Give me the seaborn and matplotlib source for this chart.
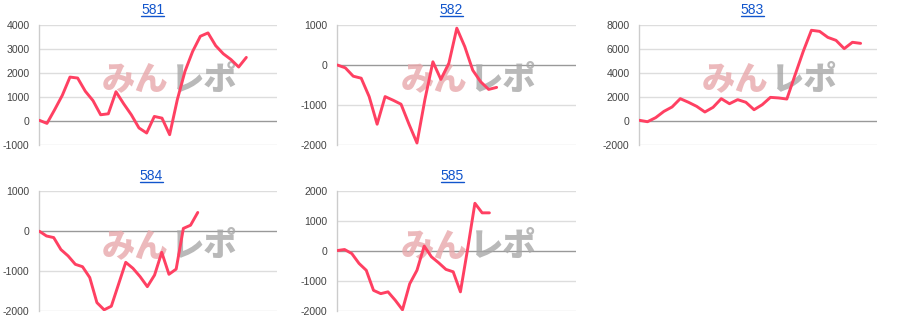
import numpy as np
import pandas as pd
import matplotlib
matplotlib.use("Agg")
import matplotlib.pyplot as plt
import seaborn as sns
from matplotlib.lines import Line2D

sns.set_theme(style="white")
plt.rcParams['font.family'] = ['Arial', 'Liberation Sans', 'DejaVu Sans']
plt.rcParams['axes.unicode_minus'] = False

titles = ["581", "582", "583", "584", "585"]

s581 = [30, -100, 470, 1070, 1830, 1790, 1240, 850, 260, 300, 1220, 720, 260, -290,
        -500, 190, 120, -570, 890, 2070, 2900, 3530, 3670, 3140, 2800, 2560, 2250, 2650]
s582 = [0, -70, -280, -330, -790, -1480, -790, -880, -980, -1480, -1950, -860, 80,
        -360, 40, 920, 460, -130, -420, -610, -560]
s583 = [60, -60, 280, 800, 1170, 1860, 1560, 1220, 750, 1140, 1860, 1440, 1780, 1560,
        940, 1360, 1970, 1920, 1830, 3830, 5800, 7560, 7470, 6970, 6720, 6030, 6560, 6470]
s584 = [0, -120, -160, -460, -620, -830, -890, -1160, -1790, -1970, -1880, -1330, -780,
        -930, -1140, -1390, -1100, -530, -1080, -950, 70, 150, 470]
s585 = [20, 55, -80, -410, -640, -1310, -1420, -1360, -1640, -1960, -1090, -640, 170,
        -190, -390, -610, -690, -1360, 80, 1600, 1280, 1280]

series = [s581, s582, s583, s584, s585]
ylims = [(-1000, 4000), (-2000, 1000), (-2000, 8000), (-2000, 1000), (-2000, 2000)]
ysteps = [1000, 1000, 2000, 1000, 1000]
xmax = [31, 30, 29, 33, 33]

W, H = 900, 332
fig = plt.figure(figsize=(W / 100, H / 100), dpi=100)

col_x = [(39.3, 277), (337.3, 576.3), (639.3, 877)]
row_y = [(25, 145), (191.3, 311)]
title_pos = [(152.5, 9.5), (451.5, 9.5), (752.5, 9.5), (151.5, 175.5), (452.5, 175.5)]

line_color = "#ff4062"
axes = []
for i, (t, s) in enumerate(zip(titles, series)):
    r, c = divmod(i, 3)
    x0, x1 = col_x[c]
    y0, y1 = row_y[r]
    ax = fig.add_axes([x0 / W, 1 - y1 / H, (x1 - x0) / W, (y1 - y0) / H])
    axes.append(ax)
    lo, hi = ylims[i]
    ticks = np.arange(lo, hi + 1, ysteps[i])
    for tv in ticks:
        ax.axhline(tv, color="#999999" if tv == 0 else "#dddddd",
                   lw=1.0, zorder=1)
    # watermark
    ax.text(0.545, 0.55, "みん", transform=ax.transAxes, fontsize=24,
            family=['Noto Sans CJK JP'], fontweight='heavy', color="#e8a8ab",
            alpha=0.8, ha='right', va='center', zorder=2)
    ax.text(0.555, 0.55, "レポ", transform=ax.transAxes, fontsize=24,
            family=['Noto Sans CJK JP'], fontweight='heavy', color="#a8a8a8",
            alpha=0.8, ha='left', va='center', zorder=2)
    df = pd.DataFrame({"x": np.arange(len(s)), "y": s})
    sns.lineplot(data=df, x="x", y="y", ax=ax, color=line_color, lw=2.1,
                 zorder=3)
    ax.set_xlim(0, xmax[i])
    ax.set_ylim(lo, hi)
    ax.set_yticks(ticks)
    ax.set_yticklabels([str(int(v)) for v in ticks])
    ax.set_xticks([])
    ax.set_xlabel("")
    ax.set_ylabel("")
    for sp in ["top", "right", "bottom"]:
        ax.spines[sp].set_visible(False)
    ax.spines["left"].set_color("#cccccc")
    ax.spines["left"].set_linewidth(1.0)
    ax.tick_params(axis='y', length=0, pad=7, labelsize=7.6, colors="#444444")
    ax.patch.set_alpha(0)

title_texts = []
for i, t in enumerate(titles):
    px, py = title_pos[i]
    tt = fig.text(px / W, 1 - py / H, t, ha='center', va='center',
                  fontsize=10, color="#1155cc")
    title_texts.append(tt)

fig.canvas.draw()
renderer = fig.canvas.get_renderer()
for tt in title_texts:
    bb = tt.get_window_extent(renderer)
    yline = bb.y0 + 0.5
    fig.add_artist(Line2D([bb.x0 / W, bb.x1 / W], [yline / H, yline / H],
                          transform=fig.transFigure, color="#1155cc", lw=1.0))

fig.savefig("out.png", dpi=100)
